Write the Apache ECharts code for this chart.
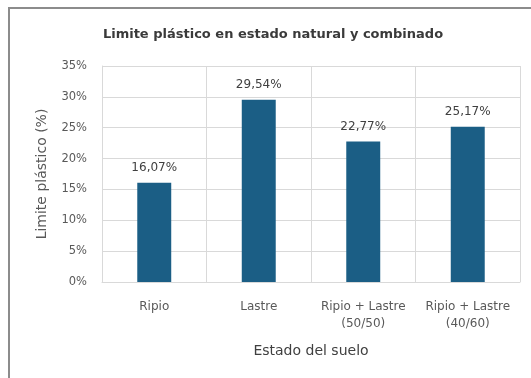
<!DOCTYPE html>
<html>
<head>
<meta charset="utf-8">
<script src="https://cdn.jsdelivr.net/npm/echarts@6/dist/echarts.min.js"></script>
<style>
  html, body { margin: 0; padding: 0; background: #fff; }
  #chart { width: 531px; height: 378px; }
</style>
</head>
<body>
<div id="chart"></div>
<script>
// Soil states and their plastic limit (%)
const categories = ['Ripio', 'Lastre', 'Ripio + Lastre\n(50/50)', 'Ripio + Lastre\n(40/60)'];
const plasticLimit = [16.07, 29.54, 22.77, 25.17];
const yTicks = { min: 0, max: 35, interval: 5 };

const FONT = '"DejaVu Sans", sans-serif';
const chart = echarts.init(document.getElementById('chart'), null, { renderer: 'canvas' });

chart.setOption({
  backgroundColor: '#ffffff',
  animation: false,
  graphic: [{
    type: 'rect',
    shape: { x: 9, y: 8, width: 600, height: 500 },
    style: { fill: 'none', stroke: '#8c8c8c', lineWidth: 2 },
    silent: true
  }],
  title: {
    text: 'Limite plástico en estado natural y combinado',
    left: 268, top: 23, textAlign: 'center',
    textStyle: { fontFamily: FONT, fontSize: 13, fontWeight: 'bold', color: '#3a3a3a' }
  },
  grid: { left: 102, right: 11, top: 66, bottom: 96 },
  xAxis: {
    type: 'category',
    data: categories,
    name: 'Estado del suelo',
    nameLocation: 'middle',
    nameGap: 62,
    nameTextStyle: { fontFamily: FONT, fontSize: 14, color: '#404040' },
    axisLine: { show: true, lineStyle: { color: '#d9d9d9', width: 1 } },
    axisTick: { show: false },
    splitLine: { show: true, interval: 0, lineStyle: { color: '#d9d9d9', width: 1 } },
    axisLabel: { interval: 0, fontFamily: FONT, fontSize: 12, color: '#595959', margin: 16, lineHeight: 17 }
  },
  yAxis: {
    type: 'value',
    min: yTicks.min, max: yTicks.max, interval: yTicks.interval,
    name: 'Limite plástico (%)',
    nameLocation: 'middle',
    nameGap: 53,
    nameTextStyle: { fontFamily: FONT, fontSize: 14, color: '#595959' },
    axisLine: { show: true, lineStyle: { color: '#d9d9d9' } },
    axisTick: { show: false },
    splitLine: { show: true, lineStyle: { color: '#d9d9d9', width: 1 } },
    axisLabel: { fontFamily: FONT, fontSize: 11.5, color: '#595959', margin: 15, formatter: '{value}%' }
  },
  series: [{
    type: 'bar',
    data: plasticLimit,
    barWidth: '32.5%',
    itemStyle: { color: '#1b5e85' },
    label: {
      show: true, position: 'top', distance: 9,
      fontFamily: FONT, fontSize: 12, color: '#404040',
      formatter: p => p.value.toFixed(2).replace('.', ',') + '%'
    }
  }]
});
</script>
</body>
</html>
